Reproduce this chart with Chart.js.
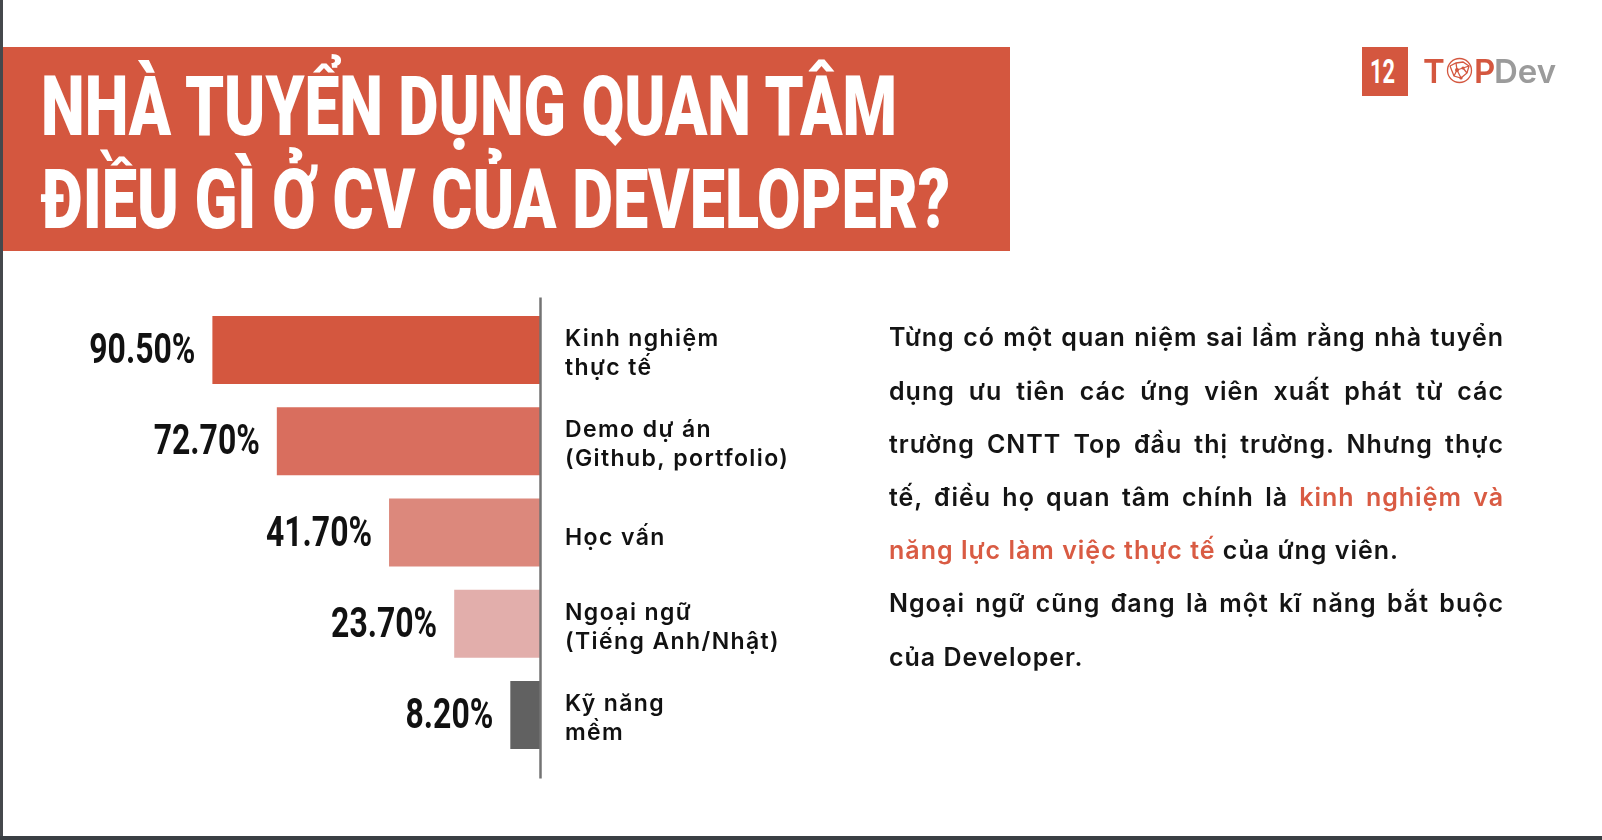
<!DOCTYPE html>
<html>
<head>
<meta charset="utf-8">
<script src="https://cdn.jsdelivr.net/npm/chart.js@4"></script>
<style>
  body { margin: 0; width: 1602px; height: 840px; overflow: hidden; background: #fff; position: relative; font-family: Inter, "Noto Sans", sans-serif; }
  #kdChart { position: absolute; left: 0; top: 0; }
  .edge-left { position: absolute; left: 0; top: 0; width: 3px; height: 840px; background: #45484c; }
  .edge-bottom { position: absolute; left: 0; top: 836px; width: 1602px; height: 4px; background: #3a3f44; }
  .band { position: absolute; left: 3px; top: 47px; width: 1007px; height: 204px; background: #d4573f; }
  .title-line { position: absolute; left: 41px; height: 93px; line-height: 93px; font-family: Roboto, sans-serif; font-weight: 900; font-size: 84px; color: #fff; white-space: nowrap; transform-origin: 0 50%; }
  .logo-box { position: absolute; left: 1362px; top: 47px; width: 46px; height: 49px; background: #d4573f; }
  .logo-num { position: absolute; left: 1370px; top: 54.5px; line-height: 33px; font-family: Roboto, sans-serif; font-weight: 700; font-size: 33px; color: #fff; transform-origin: 0 50%; white-space: nowrap; }
  .logo-txt { position: absolute; top: 54.5px; line-height: 33px; font-family: Inter, sans-serif; font-weight: 600; font-size: 33px; white-space: nowrap; }
  .para { position: absolute; left: 889px; top: 311.3px; width: 615px; font-size: 25px; font-weight: 600; letter-spacing: 1px; line-height: 53.2px; color: #141414; }
  .para div { text-align: justify; text-align-last: justify; }
  .para div.last { text-align-last: left; }
  .hl { color: #d95b43; }
</style>
</head>
<body>
<canvas id="kdChart" width="1602" height="840"></canvas>
<div class="edge-left"></div>
<div class="edge-bottom"></div>
<div class="band"></div>
<div class="title-line" id="t1" style="top:59.8px">NHÀ TUYỂN DỤNG QUAN TÂM</div>
<div class="title-line" id="t2" style="top:152.8px">ĐIỀU GÌ Ở CV CỦA DEVELOPER?</div>

<div class="logo-box"></div>
<div class="logo-num" id="num">12</div>
<div class="logo-txt" style="left:1423px;color:#d4573f">T</div>
<svg style="position:absolute;left:1446px;top:57px" width="27" height="27" viewBox="0 0 27 27">
  <g fill="none" stroke="#d4573f" stroke-width="1.3">
    <circle cx="13.5" cy="13.5" r="12"/>
    <polyline points="4,9 10,6 17,5 23,9 21,16 15,21 8,19 4,9"/>
    <polyline points="10,6 11,13 8,19"/>
    <polyline points="11,13 17,11 23,9"/>
    <polyline points="17,11 21,16"/>
    <polyline points="11,13 15,21"/>
  </g>
  <g fill="#d4573f">
    <circle cx="11" cy="13" r="2"/>
    <circle cx="17" cy="11" r="1.6"/>
    <circle cx="15" cy="21" r="1.6"/>
  </g>
</svg>
<div class="logo-txt" style="left:1474px;color:#d4573f">P</div>
<div class="logo-txt" style="left:1494px;color:#9b9b9b">Dev</div>

<div class="para">
  <div>Từng có một quan niệm sai lầm rằng nhà tuyển</div>
  <div>dụng ưu tiên các ứng viên xuất phát từ các</div>
  <div>trường CNTT Top đầu thị trường. Nhưng thực</div>
  <div>tế, điều họ quan tâm chính là <span class="hl">kinh nghiệm và</span></div>
  <div class="last"><span class="hl">năng lực làm việc thực tế</span> của ứng viên.</div>
  <div>Ngoại ngữ cũng đang là một kĩ năng bắt buộc</div>
  <div class="last">của Developer.</div>
</div>

<script>
// Tỉ lệ nhà tuyển dụng quan tâm từng mục trong CV
const categories = [
  ['Kinh nghiệm', 'thực tế'],
  ['Demo dự án', '(Github, portfolio)'],
  ['Học vấn'],
  ['Ngoại ngữ', '(Tiếng Anh/Nhật)'],
  ['Kỹ năng', 'mềm']
];
const percentValues = [90.5, 72.7, 41.7, 23.7, 8.2];
const barColors = ['#d4573f', '#d96e5e', '#dc887c', '#e2aeab', '#616161'];

// chữ nén theo chiều ngang cho tiêu đề
function squeeze(id, target) {
  const el = document.getElementById(id);
  const w = el.getBoundingClientRect().width;
  el.style.transform = 'scaleX(' + (target / w) + ')';
}
squeeze('t1', 856);
squeeze('t2', 909);
squeeze('num', 25);

const labelPlugin = {
  id: 'barLabels',
  afterDatasetsDraw(chart) {
    const ctx = chart.ctx;
    const meta = chart.getDatasetMeta(0);
    const zeroX = chart.scales.x.getPixelForValue(0);

    // trục đứng
    ctx.save();
    ctx.strokeStyle = '#737373';
    ctx.lineWidth = 2.5;
    ctx.beginPath();
    ctx.moveTo(zeroX + 0.5, chart.chartArea.top - 7);
    ctx.lineTo(zeroX + 0.5, chart.chartArea.bottom + 18);
    ctx.stroke();
    ctx.restore();

    meta.data.forEach((bar, i) => {
      // phần trăm bên trái
      ctx.save();
      ctx.fillStyle = '#111';
      ctx.font = 'bold 42px Roboto';
      ctx.textAlign = 'right';
      ctx.textBaseline = 'alphabetic';
      ctx.translate(bar.x - 17, bar.y + 13);
      ctx.scale(0.76, 1);
      ctx.fillText(percentValues[i].toFixed(2) + '%', 0, 0);
      ctx.restore();

      // tên mục bên phải
      const lines = categories[i];
      ctx.save();
      ctx.fillStyle = '#111';
      ctx.font = '600 23px Inter';
      ctx.letterSpacing = '1.4px';
      ctx.textAlign = 'left';
      let y = lines.length > 1 ? bar.y - 4 : bar.y + 12;
      lines.forEach(line => {
        ctx.fillText(line, zeroX + 25, y);
        y += 29;
      });
      ctx.restore();
    });
  }
};

const ctx = document.getElementById('kdChart').getContext('2d');

const cvChart = new Chart(ctx, {
  type: 'bar',
  data: {
    labels: categories,
    datasets: [{
      data: percentValues,
      backgroundColor: barColors,
      borderWidth: 0,
      barPercentage: 1,
      categoryPercentage: 0.745
    }]
  },
  options: {
    indexAxis: 'y',
    responsive: false,
    animation: false,
    devicePixelRatio: 1,
    layout: {
      padding: { left: 178, right: 1062, top: 304.4, bottom: 79.4 }
    },
    plugins: {
      legend: { display: false },
      tooltip: { enabled: false }
    },
    scales: {
      x: { display: false, reverse: true, min: 0, max: 100 },
      y: { display: false }
    }
  },
  plugins: [labelPlugin]
});
</script>
</body>
</html>
